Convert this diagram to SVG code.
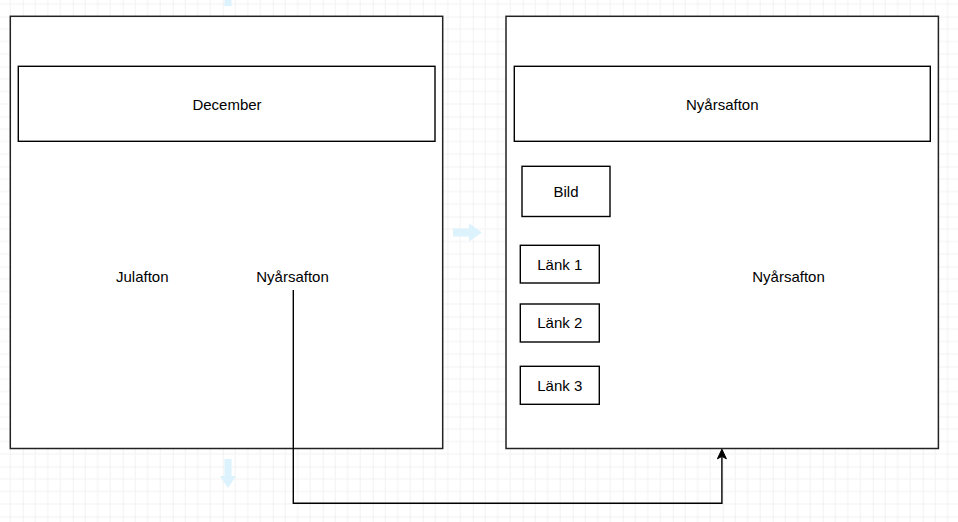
<svg xmlns="http://www.w3.org/2000/svg" width="958" height="522" viewBox="0 0 958 522">
  <defs>
    <pattern id="grid" patternUnits="userSpaceOnUse" x="22.7" y="16.5" width="50" height="50">
      <path d="M12.5 0V50M25 0V50M37.5 0V50M0 12.5H50M0 25H50M0 37.5H50" stroke="#f2f2f2" stroke-width="1" fill="none"/>
      <path d="M0 0V50M0 0H50" stroke="#e5e5e5" stroke-width="1" fill="none"/>
    </pattern>
  </defs>
  <style>
    .box { fill: #ffffff; stroke: #000000; stroke-width: 1.4; }
    .outer { fill: #ffffff; stroke: #222222; stroke-width: 1.5; }
    .lbl { font-family: "Liberation Sans", Arial, sans-serif; font-size: 15px; fill: #000000; text-anchor: middle; }
    .hint { fill: #dcf2fd; stroke: none; }
    .edge { fill: none; stroke: #000000; stroke-width: 1.4; }
  </style>
  <rect x="0" y="0" width="958" height="522" fill="#ffffff"/>
  <rect x="0" y="0" width="958" height="522" fill="url(#grid)"/>

  <g id="hints">
    <rect class="hint" x="224.5" y="0" width="7" height="6"/>
    <path class="hint" d="M453 228.5H469V223.5L482 232.5L469 241.5V236.5H453Z"/>
    <path class="hint" d="M224.5 459H231.5V476H236L228 488L220 476H224.5Z"/>
  </g>

  <g id="page-december">
    <rect class="outer" x="10.3" y="16.3" width="432.4" height="432.2"/>
  </g>
  <g id="header-december">
    <rect class="box" x="18.3" y="66.3" width="416.7" height="75"/>
    <text class="lbl" x="227" y="109.5">December</text>
  </g>
  <g id="julafton">
    <text class="lbl" x="142.3" y="282.4">Julafton</text>
  </g>
  <g id="nyarsafton-link">
    <text class="lbl" x="292.5" y="282.4">Nyårsafton</text>
  </g>

  <g id="page-nyarsafton">
    <rect class="outer" x="506" y="16.3" width="432.4" height="432.2"/>
  </g>
  <g id="header-nyarsafton">
    <rect class="box" x="514.3" y="66.3" width="416" height="75"/>
    <text class="lbl" x="722.3" y="109.5">Nyårsafton</text>
  </g>
  <g id="bild">
    <rect class="box" x="522" y="166.3" width="88" height="50.2"/>
    <text class="lbl" x="566" y="197.4">Bild</text>
  </g>
  <g id="lank1">
    <rect class="box" x="520.3" y="245.3" width="79" height="37.7"/>
    <text class="lbl" x="559.8" y="269.6">Länk 1</text>
  </g>
  <g id="lank2">
    <rect class="box" x="520.3" y="304" width="79" height="38"/>
    <text class="lbl" x="559.8" y="328.4">Länk 2</text>
  </g>
  <g id="lank3">
    <rect class="box" x="520.3" y="366.3" width="79" height="38"/>
    <text class="lbl" x="559.8" y="390.8">Länk 3</text>
  </g>
  <g id="nyarsafton-content">
    <text class="lbl" x="788.5" y="282.4">Nyårsafton</text>
  </g>

  <g id="connectors">
    <path class="edge" d="M293.3 290V503.3H721.9V457"/>
    <path d="M721.9 449.2L726.4 458.8L721.9 456.4L717.4 458.8Z" fill="#000000" stroke="#000000" stroke-width="1"/>
  </g>
</svg>
